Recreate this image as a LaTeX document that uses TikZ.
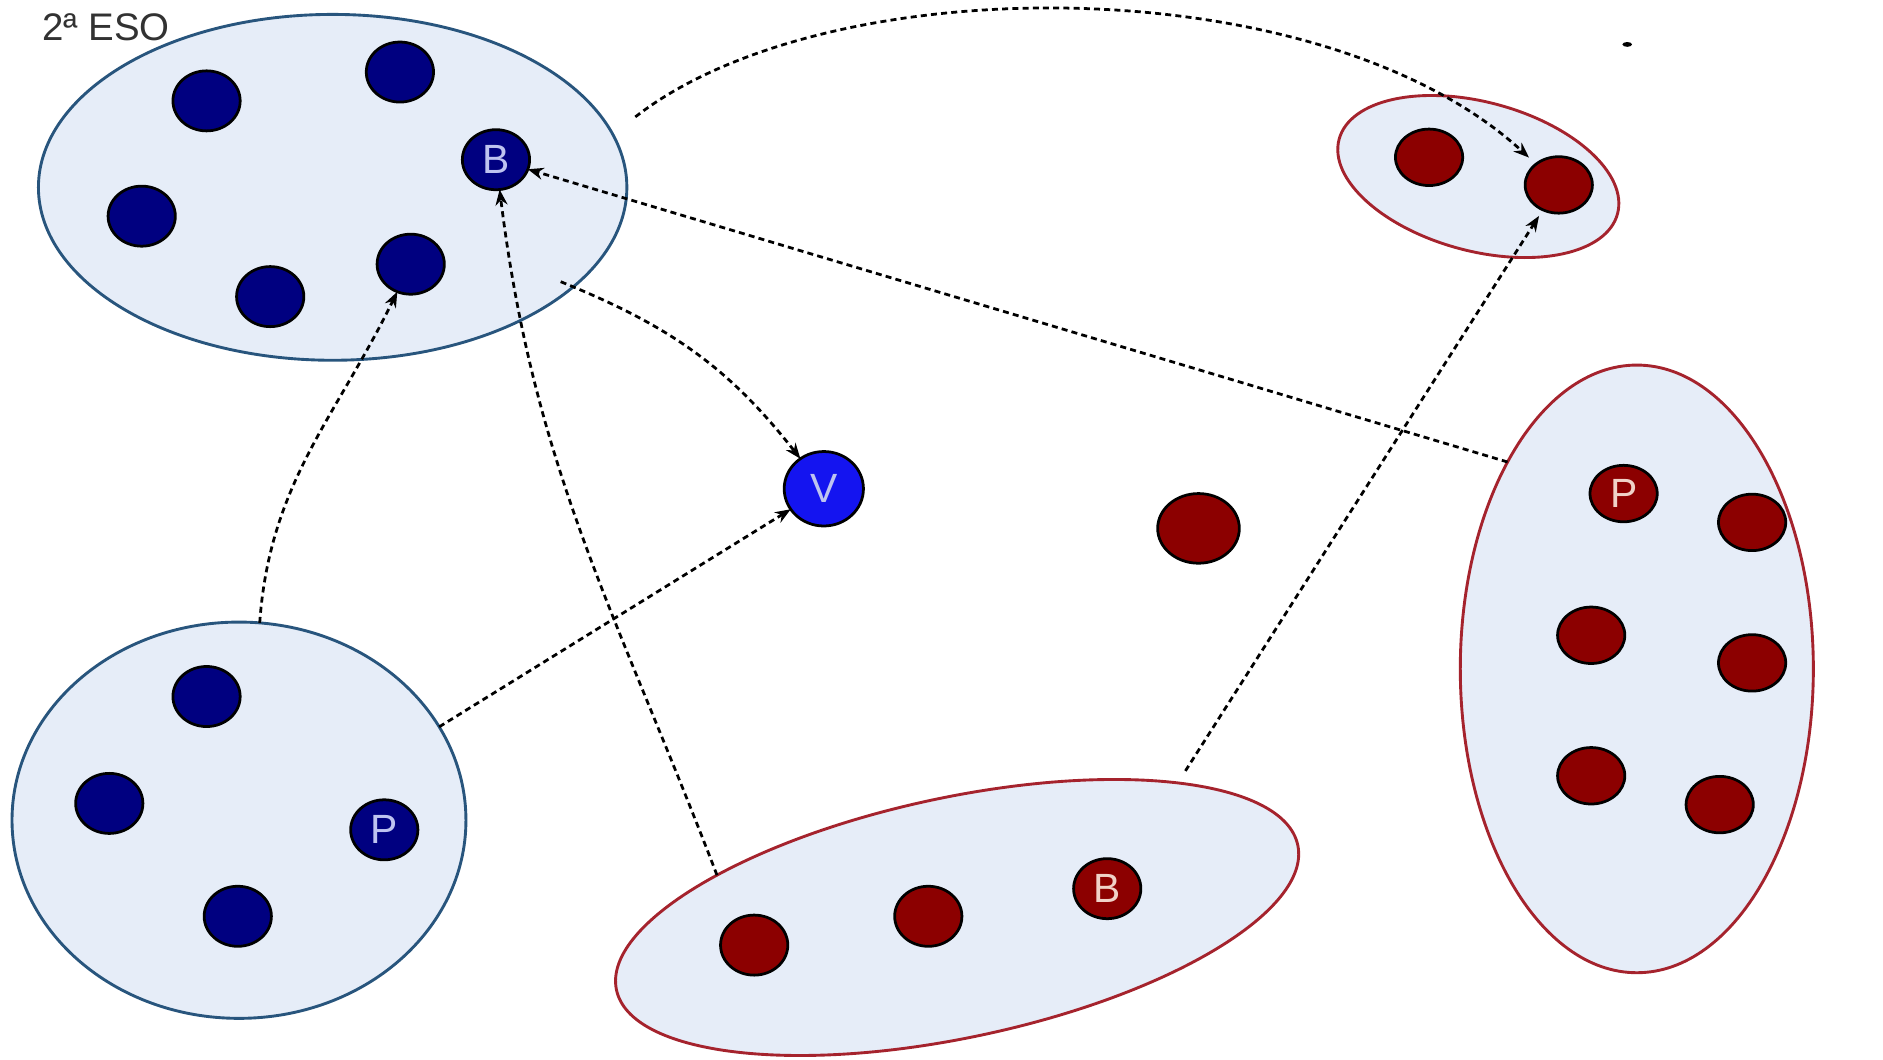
\documentclass[tikz,border=0pt]{standalone}
\usepackage{fontspec}
\setmainfont{Liberation Sans}
\usetikzlibrary{shapes.geometric,arrows.meta}
\definecolor{setfill}{RGB}{230,237,248}
\definecolor{blueedge}{RGB}{40,85,125}
\definecolor{rededge}{RGB}{165,35,45}
\definecolor{navydot}{RGB}{0,0,128}
\definecolor{vblue}{RGB}{20,20,240}
\definecolor{reddot}{RGB}{140,0,0}
\definecolor{bluetxt}{RGB}{190,195,240}
\definecolor{redtxt}{RGB}{240,210,200}
\definecolor{titlegray}{RGB}{50,50,50}
\begin{document}
\begin{tikzpicture}[x=1pt,y=-1pt,
  setnode/.style={ellipse,fill=setfill,line width=2.4pt,inner sep=0pt,outer sep=0pt},
  bset/.style={setnode,draw=blueedge},
  rset/.style={setnode,draw=rededge},
  dotbase/.style={ellipse,draw=black,line width=2.3pt,minimum width=56pt,minimum height=50pt,inner sep=0pt,outer sep=0pt,font=\fontsize{34}{36}\selectfont},
  bdot/.style={dotbase,fill=navydot,text=bluetxt},
  rdot/.style={dotbase,fill=reddot,text=redtxt},
  link/.style={line width=2.3pt,dash pattern=on 5pt off 3.5pt,-{Stealth[length=13pt,width=10pt]}},
]
\useasboundingbox (0,0) rectangle (1568,882);

% title
\node[anchor=west,text=titlegray,font=\fontsize{32}{35}\selectfont,inner sep=0pt] (title) at (35,23) {2ª ESO};
\node[ellipse,fill=black,minimum width=8pt,minimum height=4pt,inner sep=0pt] (mark) at (1355,37) {};

% sets
\node[bset,minimum width=490pt,minimum height=288pt] (E1) at (277,156) {};
\node[bset,minimum width=378pt,minimum height=330pt] (C2) at (199,683) {};
\node[rset,minimum width=240pt,minimum height=124pt,rotate=-15] (R2) at (1231,147) {};
\node[rset,minimum width=294pt,minimum height=506pt] (R3) at (1363,557) {};
\node[rset,minimum width=580pt,minimum height=200pt,rotate=12] (R4) at (797,764) {};

% dots of E1
\node[bdot] (e1a) at (172,84) {};
\node[bdot] (e1b) at (333,60) {};
\node[bdot] (e1c) at (118,180) {};
\node[bdot] (e1d) at (225,247) {};
\node[bdot] (e1e) at (342,220) {};
\node[bdot] (B1) at (413,133) {B};

% dots of C2
\node[bdot] (c2a) at (172,580) {};
\node[bdot] (c2b) at (91,669) {};
\node[bdot] (c2c) at (198,763) {};
\node[bdot] (P1) at (320,691) {P};

% V
\node[dotbase,fill=vblue,text=bluetxt,minimum width=66pt,minimum height=62pt] (V) at (686,407) {V};

% lone red dot
\node[rdot,minimum width=68pt,minimum height=58pt] (lone) at (998,440) {};

% dots of R2
\node[rdot,minimum height=47pt] (r2a) at (1190,131) {};
\node[rdot,minimum height=47pt] (r2b) at (1298,154) {};

% dots of R3
\node[rdot,minimum height=47pt] (P2) at (1352,411) {P};
\node[rdot,minimum height=47pt] (r3b) at (1459,435) {};
\node[rdot,minimum height=47pt] (r3c) at (1325,529) {};
\node[rdot,minimum height=47pt] (r3d) at (1459,552) {};
\node[rdot,minimum height=47pt] (r3e) at (1325,646) {};
\node[rdot,minimum height=47pt] (r3f) at (1432,670) {};

% dots of R4
\node[rdot] (r4a) at (628,787) {};
\node[rdot] (r4b) at (773,763) {};
\node[rdot] (B2) at (922,740) {B};

% connectors
\draw[link,shorten >=8pt] ([shift={(24,-6)}]E1.13) .. controls (690,-28) and (1100,-28) .. (r2b);
\draw[link] (R3.122) -- (B1);
\draw[link] ([shift={(-12,-3)}]E1.-22) to[out=-22,in=128] (V);
\draw[link] (C2.84) to[out=86,in=-116] (e1e);
\draw[link] (C2.25) -- (V);
\draw[link] (R4.158) to[out=111,in=-83] (B1);
\draw[link,shorten >=6pt] ([shift={(16,-9)}]R4.21) -- (r2b);
\end{tikzpicture}
\end{document}
